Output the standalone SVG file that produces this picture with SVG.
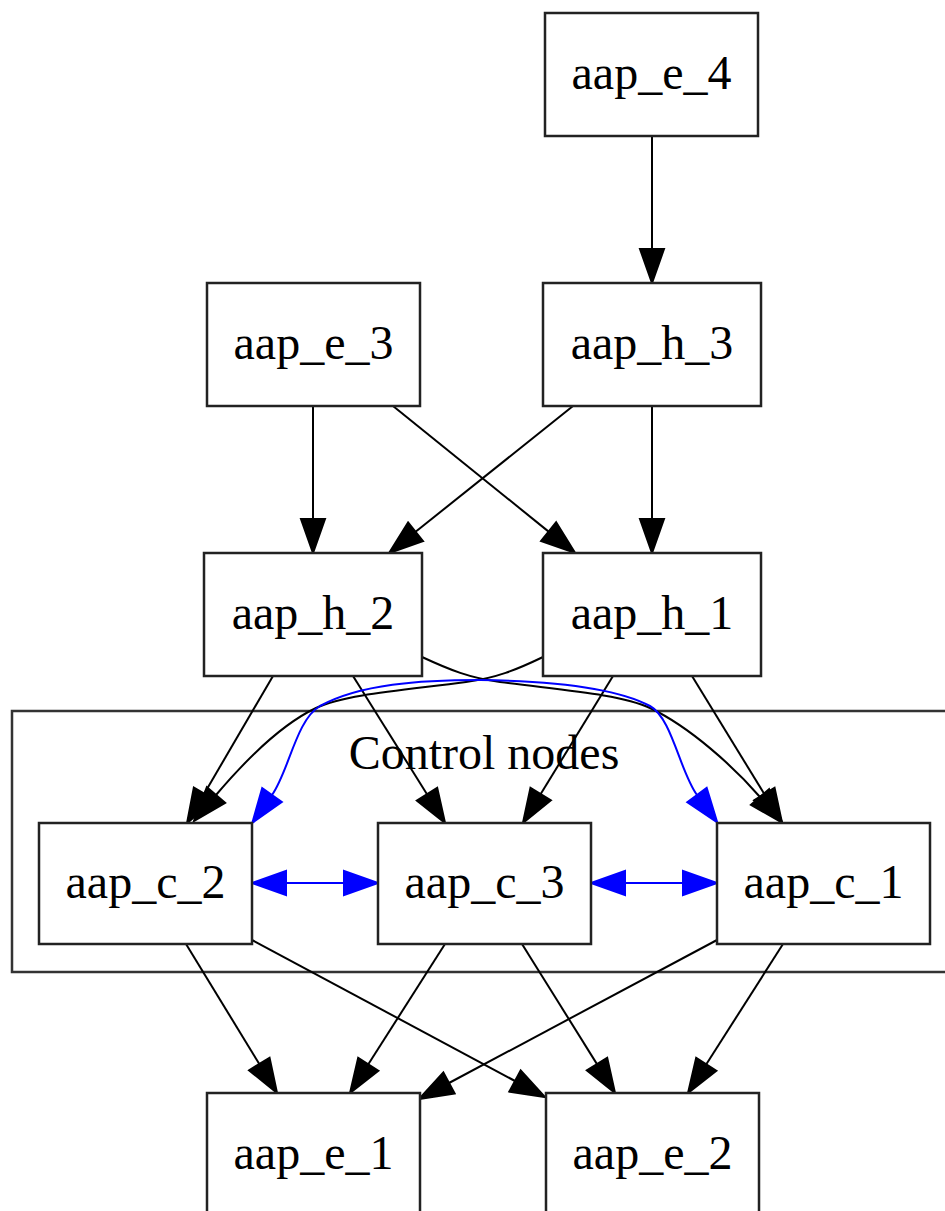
<svg xmlns="http://www.w3.org/2000/svg" width="945" height="1211" viewBox="0 0 945 1211">
<style>
.node rect{fill:#fff;stroke:#222;stroke-width:2.5}
.lbl{font-family:"Liberation Serif","Times New Roman",serif;font-size:48px;text-anchor:middle;fill:#000}
.edge{fill:none;stroke:#000;stroke-width:2;marker-end:url(#ah)}
.bedge{fill:none;stroke:#0000ff;stroke-width:2;marker-start:url(#ahb);marker-end:url(#ahb)}
.cluster rect{fill:none;stroke:#333;stroke-width:2.5}
</style>
<defs>
<marker id="ah" markerUnits="userSpaceOnUse" markerWidth="36" markerHeight="28" viewBox="0 -14 36 28" refX="0" refY="0" orient="auto" overflow="visible"><path d="M0,-12 L34,0 L0,12 z" fill="#000" stroke="#000" stroke-width="2"/></marker>
<marker id="ahb" markerUnits="userSpaceOnUse" markerWidth="36" markerHeight="28" viewBox="0 -14 36 28" refX="0" refY="0" orient="auto-start-reverse" overflow="visible"><path d="M0,-12 L34,0 L0,12 z" fill="#0000ff" stroke="#0000ff" stroke-width="2"/></marker>
</defs>
<rect width="945" height="1211" fill="#fff"/>
<g id="cluster_control" class="cluster">
<rect x="12" y="711" width="945" height="261"/>
<text class="lbl" x="484" y="769">Control nodes</text>
</g>
<g id="edges">
<path class="edge" d="M652,136 L652,249"/>
<path class="edge" d="M313,406 L313,519"/>
<path class="edge" d="M393,406 L548.6,531.6"/>
<path class="edge" d="M573,406 L415.6,531.8"/>
<path class="edge" d="M652,406 L652,519"/>
<path class="edge" d="M273,676 L204.2,793.7"/>
<path class="edge" d="M353,676 L427,794.2"/>
<path class="edge" d="M613,676 L540.7,794"/>
<path class="edge" d="M692,676 L764.3,794"/>
<path class="edge" d="M543,657 C516,670 496,678 466,682 C406,690 346,694 316,708 C280,725 244,762 216,795"/>
<path class="edge" d="M422,657 C450,670 470,678 500,682 C560,690 620,694 650,708 C690,727 734,767 760,797"/>
<path class="bedge" d="M272,795 C289,771 296,720 320,706 C360,684 420,680 480,680 C560,681 620,690 650,706 C672,718 680,772 697,795"/>
<path class="bedge" d="M286,883 L344,883"/>
<path class="bedge" d="M625,883 L683,883"/>
<path class="edge" d="M186,944 L259.3,1064"/>
<path class="edge" d="M252,940 L515,1081"/>
<path class="edge" d="M445,944 L368.3,1064.3"/>
<path class="edge" d="M522,944 L597,1064.1"/>
<path class="edge" d="M717,940 L449,1083"/>
<path class="edge" d="M783,944 L706.3,1064.3"/>
</g>
<g id="aap_e_4" class="node"><rect x="545" y="13" width="213" height="123"/><text class="lbl" x="651.5" y="89">aap_e_4</text></g>
<g id="aap_e_3" class="node"><rect x="207" y="283" width="213" height="123"/><text class="lbl" x="313.5" y="359">aap_e_3</text></g>
<g id="aap_h_3" class="node"><rect x="543" y="283" width="218" height="123"/><text class="lbl" x="652" y="359">aap_h_3</text></g>
<g id="aap_h_2" class="node"><rect x="204" y="553" width="218" height="123"/><text class="lbl" x="313" y="629">aap_h_2</text></g>
<g id="aap_h_1" class="node"><rect x="543" y="553" width="218" height="123"/><text class="lbl" x="652" y="629">aap_h_1</text></g>
<g id="aap_c_2" class="node"><rect x="39" y="823" width="213" height="121"/><text class="lbl" x="145.5" y="898">aap_c_2</text></g>
<g id="aap_c_3" class="node"><rect x="378" y="823" width="213" height="121"/><text class="lbl" x="484.5" y="898">aap_c_3</text></g>
<g id="aap_c_1" class="node"><rect x="717" y="823" width="213" height="121"/><text class="lbl" x="823.5" y="898">aap_c_1</text></g>
<g id="aap_e_1" class="node"><rect x="207" y="1093" width="213" height="123"/><text class="lbl" x="313.5" y="1169">aap_e_1</text></g>
<g id="aap_e_2" class="node"><rect x="546" y="1093" width="213" height="123"/><text class="lbl" x="652.5" y="1169">aap_e_2</text></g>
</svg>
